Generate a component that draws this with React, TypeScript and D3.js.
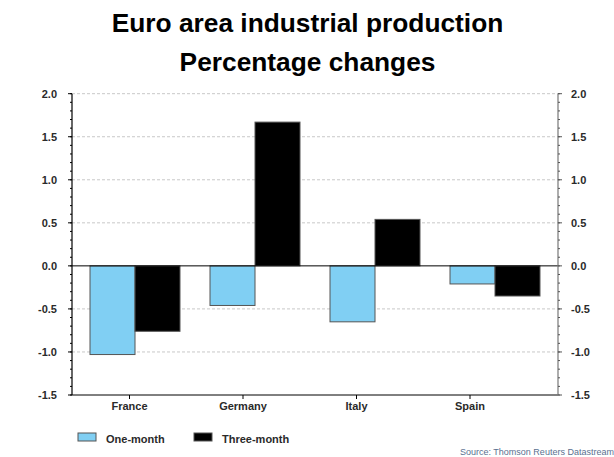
import React from "react";
import * as d3 from "d3";

const categories = ["France", "Germany", "Italy", "Spain"];
const oneMonth = [-1.03, -0.46, -0.65, -0.21];
const threeMonth = [-0.76, 1.67, 0.54, -0.35];
const seriesNames = ["One-month", "Three-month"];
const yTicks = [-1.5, -1.0, -0.5, 0.0, 0.5, 1.0, 1.5, 2.0];

const W = 614;
const H = 457;
const left = 72;
const right = 558;
const top = 93.7;
const bottom = 395;

export default function App() {
  const y = d3.scaleLinear().domain([-1.5, 2.0]).range([bottom, top]);
  const x = d3.scaleBand<string>().domain(categories).range([75, 555]).paddingInner(0.25).paddingOuter(0.125);
  const xs = d3.scaleBand<string>().domain(seriesNames).range([0, x.bandwidth()]);
  const xl = d3.scalePoint<string>().domain(categories).range([129.5, 470]);
  const minor = d3.range(-15, 21).map((i) => i / 10);
  const font = "'Liberation Sans', Arial, sans-serif";
  const colors = ["#80cff3", "#000000"];
  const series = [oneMonth, threeMonth];

  return (
    <svg width={W} height={H} style={{ position: "absolute", left: 0, top: 0, background: "#fff" }} fontFamily={font}>
      <text x={307.5} y={32} textAnchor="middle" fontSize={26.3} fontWeight="bold">Euro area industrial production</text>
      <text x={307.5} y={71} textAnchor="middle" fontSize={26.3} fontWeight="bold">Percentage changes</text>

      {yTicks.map((t) => (
        t !== 0 && t !== -1.5 ? (
          <line key={"g" + t} x1={left} x2={right} y1={y(t)} y2={y(t)} stroke="#c8c8c8" strokeDasharray="3,2" strokeWidth={1} />
        ) : null
      ))}

      {categories.map((c, i) =>
        series.map((s, j) => {
          const v = s[i];
          const x0 = (x(c) as number) + (xs(seriesNames[j]) as number);
          return (
            <rect key={c + j} x={x0} width={xs.bandwidth()} y={Math.min(y(v), y(0))} height={Math.abs(y(v) - y(0))}
              fill={colors[j]} stroke="#555" strokeWidth={1} />
          );
        })
      )}

      <line x1={left} x2={right} y1={y(0)} y2={y(0)} stroke="#000" strokeWidth={1} />
      <line x1={left} x2={right} y1={bottom} y2={bottom} stroke="#000" strokeWidth={1} />
      <line x1={left} x2={left} y1={top} y2={bottom} stroke="#000" strokeWidth={1.2} />
      <line x1={right} x2={right} y1={top} y2={bottom} stroke="#777" strokeWidth={1.2} />

      {minor.map((t) => (
        <g key={"m" + t}>
          <line x1={left - 2} x2={left} y1={y(t)} y2={y(t)} stroke="#000" />
          <line x1={right} x2={right + 2} y1={y(t)} y2={y(t)} stroke="#555" />
        </g>
      ))}
      {yTicks.map((t) => (
        <g key={"t" + t}>
          <line x1={left - 4} x2={left} y1={y(t)} y2={y(t)} stroke="#000" />
          <line x1={right} x2={right + 4} y1={y(t)} y2={y(t)} stroke="#555" />
          <text x={57} y={y(t) + 4} textAnchor="end" fontSize={11} fontWeight="bold" fill="#2a2a2a">{t.toFixed(1)}</text>
          <text x={571} y={y(t) + 4} textAnchor="start" fontSize={11} fontWeight="bold" fill="#2a2a2a">{t.toFixed(1)}</text>
        </g>
      ))}

      {categories.map((c) => (
        <g key={"x" + c}>
          <line x1={xl(c)} x2={xl(c)} y1={bottom} y2={bottom + 4} stroke="#000" />
          <text x={xl(c)} y={410} textAnchor="middle" fontSize={11} fontWeight="bold" fill="#2a2a2a">{c}</text>
        </g>
      ))}

      {seriesNames.map((n, j) => {
        const lx = j === 0 ? 78 : 194;
        return (
          <g key={"l" + n}>
            <rect x={lx} y={433} width={18} height={8} fill={colors[j]} stroke="#555" />
            <text x={lx + 28} y={443} fontSize={11} fontWeight="bold" fill="#2a2a2a">{n}</text>
          </g>
        );
      })}

      <text x={460} y={455} fontSize={9} fill="#5a7090">Source: Thomson Reuters Datastream</text>
    </svg>
  );
}
